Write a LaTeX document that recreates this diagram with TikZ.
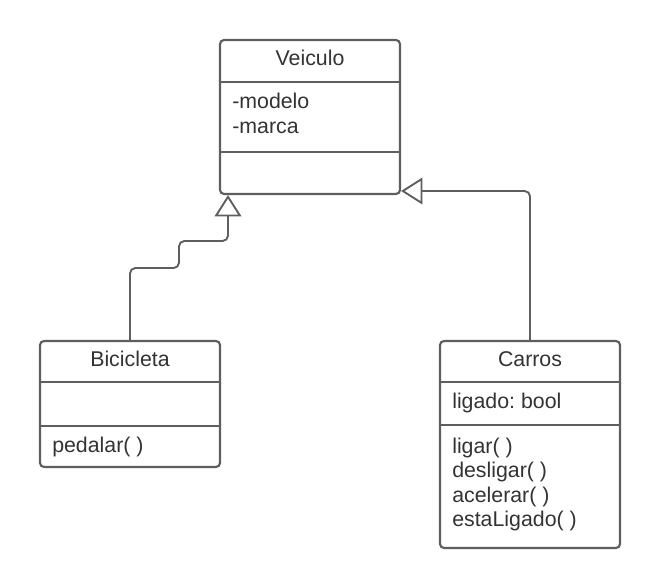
\documentclass[tikz,border=0pt]{standalone}
\usepackage{fontspec}
\setmainfont{Liberation Sans}
\usetikzlibrary{arrows.meta}
\definecolor{strokec}{HTML}{5E5E5E}
\definecolor{textc}{HTML}{333333}
\frenchspacing
\begin{document}
\begin{tikzpicture}[x=0.75pt,y=-0.75pt,
  classbox/.style={draw=strokec,line width=1.6pt,rounded corners=3pt,fill=white,inner sep=0pt,minimum width=135pt},
  sep/.style={draw=strokec,line width=1.6pt},
  lbl/.style={inner sep=0pt,text=textc,font=\fontsize{16pt}{19pt}\selectfont},
  conn/.style={draw=strokec,line width=1.4pt,rounded corners=4pt,-{Triangle[open,length=16pt,width=20pt,line width=1.4pt]}}
]
\useasboundingbox (0,0) rectangle (660,588);
% boxes
\node[classbox,minimum height=115.5pt] (veiculo) at (310,117) {};
\node[classbox,minimum height=94.5pt] (bici) at (130,404) {};
\node[classbox,minimum height=155.25pt] (carros) at (530,444.5) {};
% separators
\draw[sep] (veiculo.west |- 0,82) -- (veiculo.east |- 0,82);
\draw[sep] (veiculo.west |- 0,152) -- (veiculo.east |- 0,152);
\draw[sep] (bici.west |- 0,382) -- (bici.east |- 0,382);
\draw[sep] (bici.west |- 0,426) -- (bici.east |- 0,426);
\draw[sep] (carros.west |- 0,382) -- (carros.east |- 0,382);
\draw[sep] (carros.west |- 0,425) -- (carros.east |- 0,425);
% texts
\node[lbl,anchor=base] (tveic) at (310,66) {Veiculo};
\node[lbl,anchor=base west] (tmod) at (232,109) {-modelo};
\node[lbl,anchor=base west] (tmar) at (232,134) {-marca};
\node[lbl,anchor=base] (tbici) at (130,366) {Bicicleta};
\node[lbl,anchor=base west] (tped) at (52,452) {pedalar( )};
\node[lbl,anchor=base] (tcar) at (530,366) {Carros};
\node[lbl,anchor=base west] (tlig) at (452,408) {ligado: bool};
\node[lbl,anchor=base west] (m1) at (452,453) {ligar( )};
\node[lbl,anchor=base west] (m2) at (452,477.5) {desligar( )};
\node[lbl,anchor=base west] (m3) at (452,502) {acelerar( )};
\node[lbl,anchor=base west] (m4) at (452,526.5) {estaLigado( )};
% connectors
\draw[conn] (bici.north) -- (130,268) -- (179,268) -- (179,241) -- (228,241) -- (veiculo.south -| 228,0);
\draw[conn] (carros.north) |- (veiculo.east |- 0,191);
\end{tikzpicture}
\end{document}
